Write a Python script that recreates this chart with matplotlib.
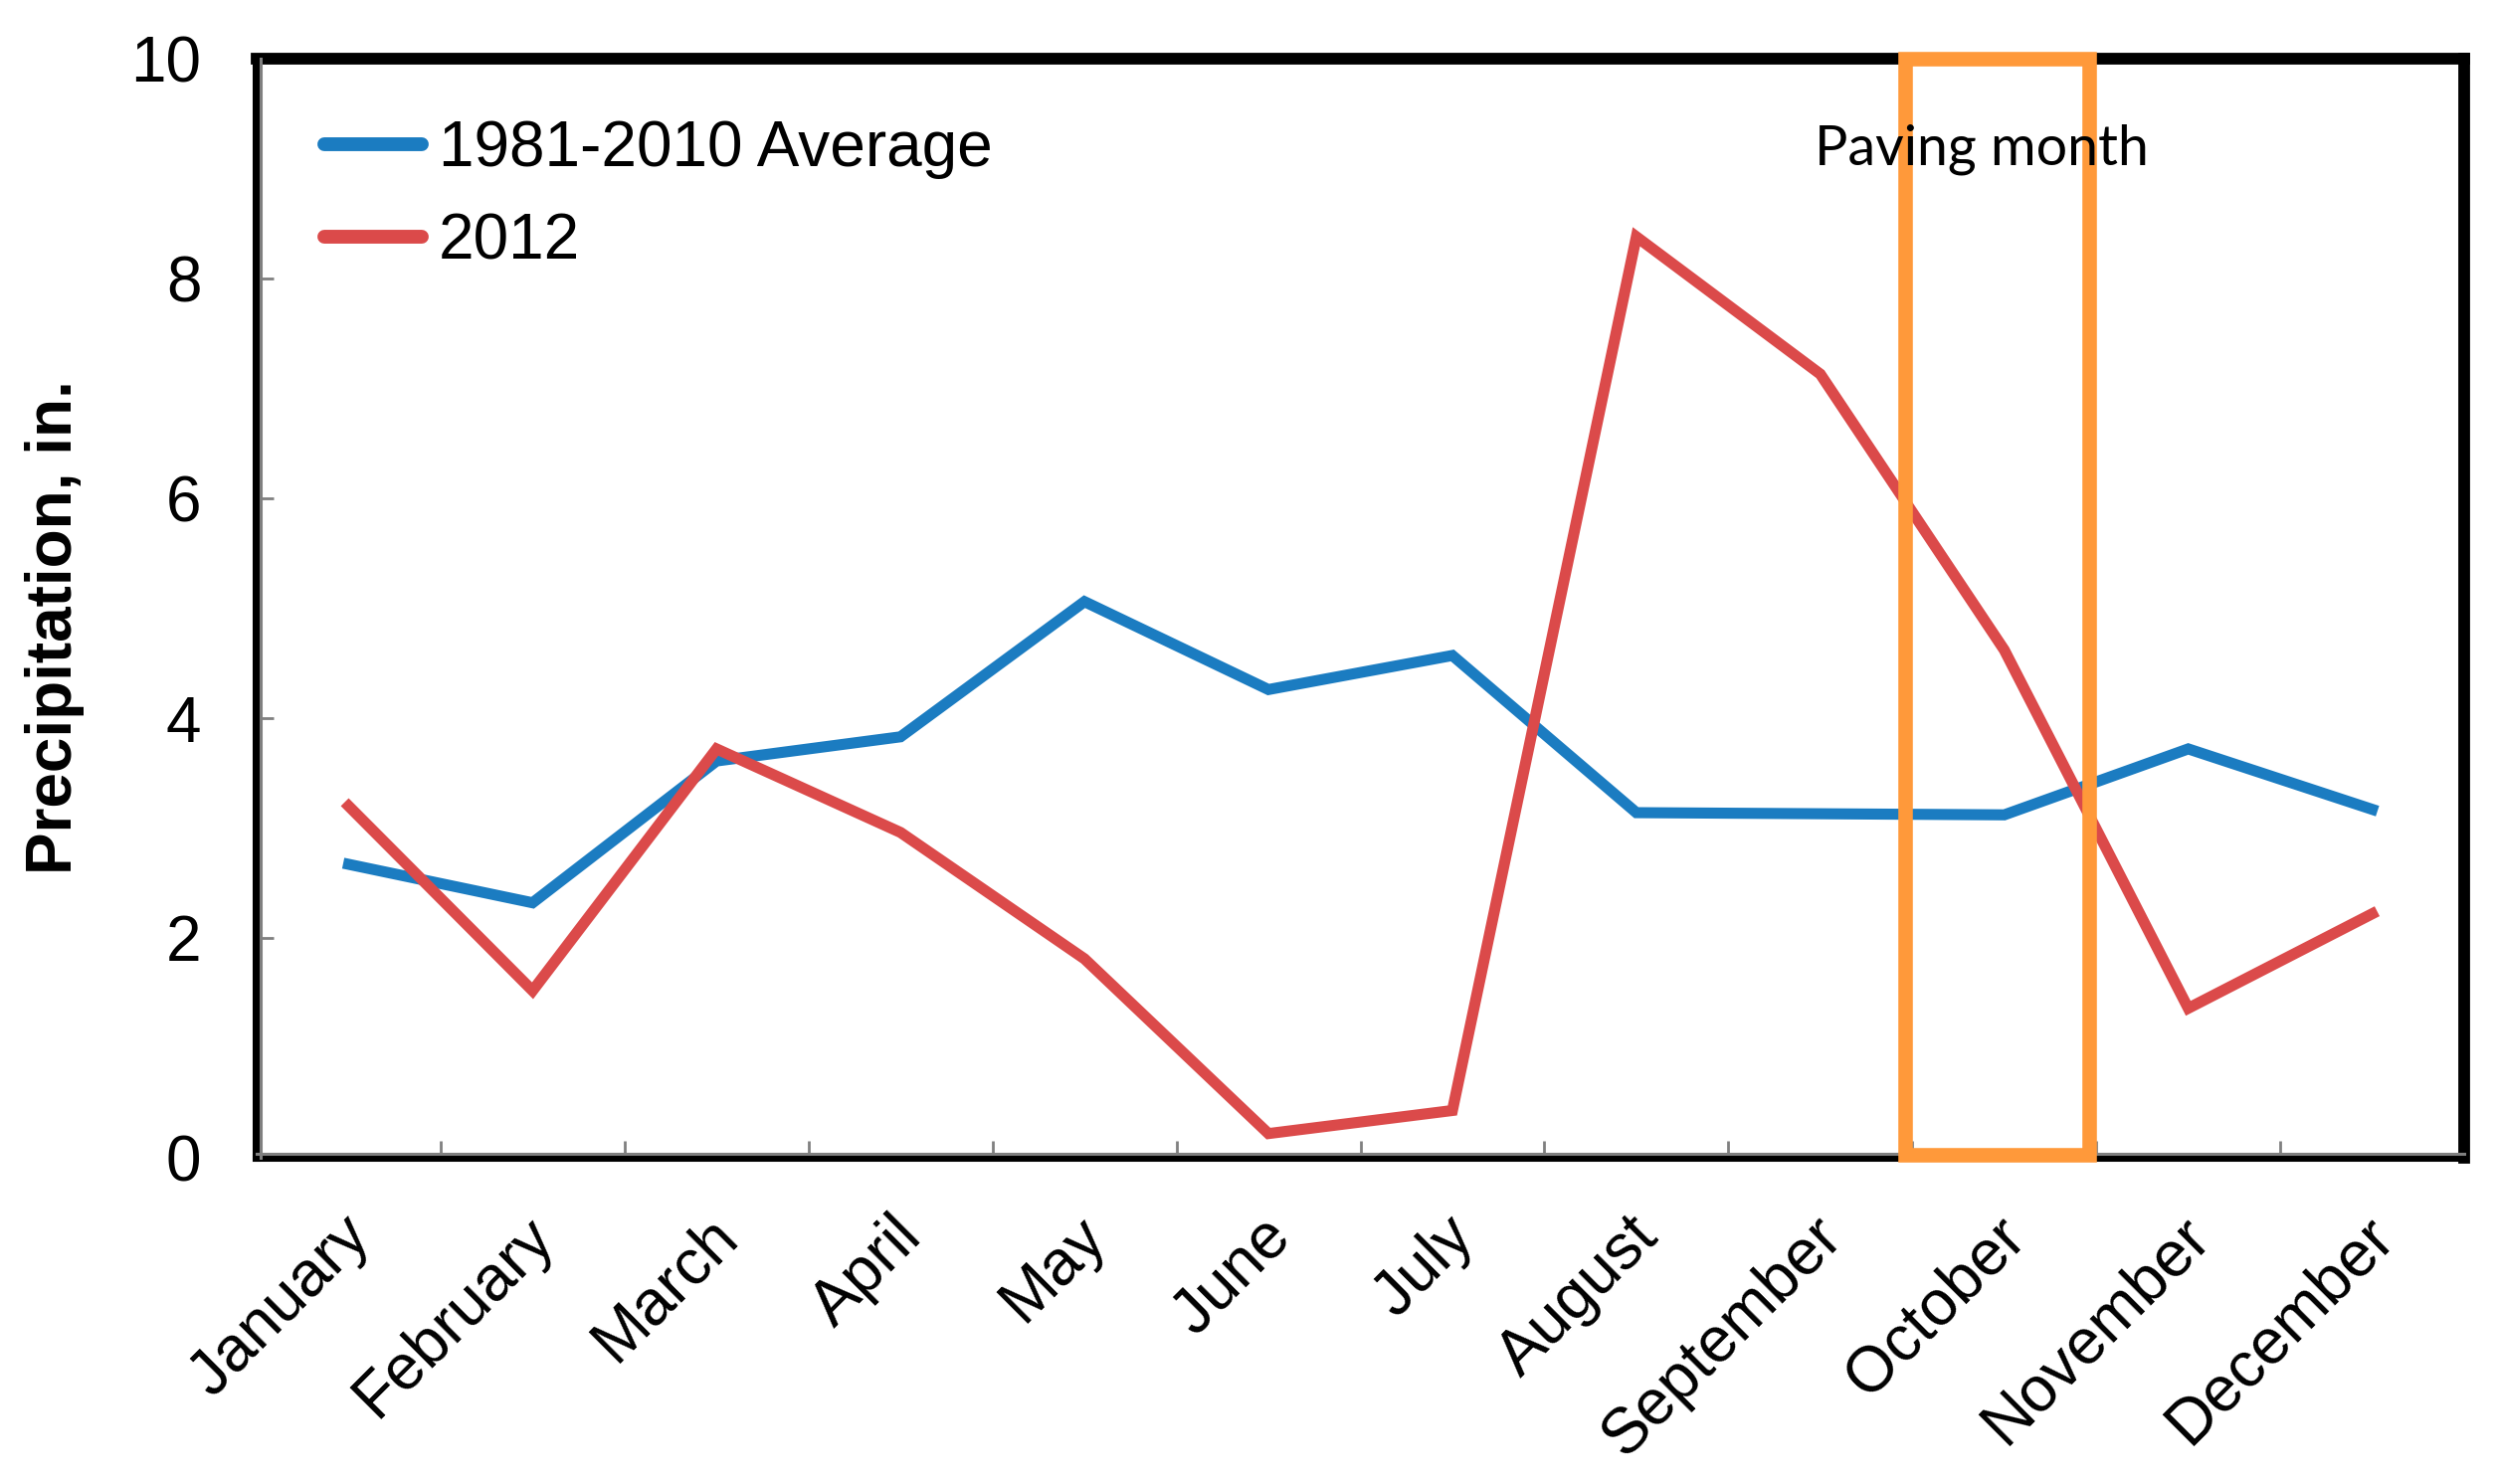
import matplotlib
matplotlib.use("Agg")
import matplotlib.pyplot as plt
import matplotlib.transforms as mtransforms
from matplotlib.patches import Rectangle
from matplotlib.lines import Line2D

months = ["January", "February", "March", "April", "May", "June", "July",
          "August", "September", "October", "November", "December"]
avg_1981_2010 = [2.67, 2.32, 3.61, 3.83, 5.06, 4.26, 4.57, 3.14, 3.13, 3.12, 3.72, 3.17]
year_2012 = [3.20, 1.52, 3.72, 2.96, 1.81, 0.22, 0.43, 8.38, 7.13, 4.62, 1.36, 2.22]
series_labels = ["1981-2010 Average", "2012"]
yticks = [0, 2, 4, 6, 8, 10]
paving_month = "October"

BLUE = "#1B7CC1"
RED = "#DB4A4A"
ORANGE = "#FF993A"
GRAY = "#808080"

plt.rcParams['font.family'] = ['Liberation Sans', 'DejaVu Sans']

DPI = 100
fig = plt.figure(figsize=(25.12, 14.92), dpi=DPI)
ax = fig.add_axes([258 / 2512, 1 - 1164 / 1492, (2477 - 258) / 2512, (1164 - 59) / 1492])

x = list(range(len(months)))
l1, = ax.plot(x, avg_1981_2010, color=BLUE, lw=8, solid_joinstyle='miter', zorder=3)
l2, = ax.plot(x, year_2012, color=RED, lw=8, solid_joinstyle='miter', zorder=3)

ax.set_xlim(-0.5, len(months) - 0.5)
ax.set_ylim(0, 10)

# spines
for side in ['left', 'bottom']:
    ax.spines[side].set_linewidth(5.8)
for side in ['top', 'right']:
    ax.spines[side].set_linewidth(8.5)
for s in ax.spines.values():
    s.set_color('black')
    s.set_zorder(4)

# gray inner axis lines
off_l = mtransforms.offset_copy(ax.transAxes, fig=fig, x=4, y=0, units='dots')
off_b = mtransforms.offset_copy(ax.transAxes, fig=fig, x=0, y=4, units='dots')
ax.add_line(Line2D([0, 0], [0, 1], transform=off_l, color=GRAY, lw=2.2, clip_on=False, zorder=4.5))
ax.add_line(Line2D([0, 1], [0, 0], transform=off_b, color=GRAY, lw=2.2, clip_on=False, zorder=4.5))

# ticks
ax.set_yticks(yticks)
ax.set_yticklabels([str(v) for v in yticks])
ax.tick_params(axis='y', direction='in', length=12, width=2, color=GRAY,
               labelsize=46, pad=40)
ax.set_xticks(x)
ax.set_xticklabels(months)
ax.set_xticks([i + 0.5 for i in x[:-1]], minor=True)
ax.tick_params(axis='x', which='major', length=0, labelsize=46, pad=50)
ax.tick_params(axis='x', which='minor', direction='in', length=12, width=2, color=GRAY)
shift = mtransforms.ScaledTranslation(12 / DPI, 0, fig.dpi_scale_trans)
for lab in ax.get_xticklabels():
    lab.set_rotation(45)
    lab.set_ha('right')
    lab.set_va('center')
    lab.set_rotation_mode('anchor')
    lab.set_transform(lab.get_transform() + shift)

# y label
ax.set_ylabel("Precipitation, in.", fontsize=46, fontweight='bold', va='center')
ax.yaxis.set_label_coords((55 - 258) / (2477 - 258), (1164 - 631) / (1164 - 59))

# paving month box
pi = months.index(paving_month)
rect = Rectangle((pi - 0.54, 0.03), 1.0, 10 - 0.03, fill=False, edgecolor=ORANGE,
                 lw=10.5, clip_on=False, zorder=5, joinstyle='miter')
ax.add_patch(rect)
ax.text(pi - 1.03, 9.04, "Paving month", family=['Lato', 'DejaVu Sans'], fontsize=40,
        ha='left', va='baseline', zorder=6)

# legend
leg = ax.legend([l1, l2], series_labels, loc='upper left',
                bbox_to_anchor=(326 / 2512, 1 - 120 / 1492), bbox_transform=fig.transFigure,
                frameon=False, fontsize=46, handlelength=1.53, handletextpad=0.27,
                labelspacing=0.52, borderpad=0, borderaxespad=0)
for h in leg.get_lines():
    h.set_linewidth(10)
    h.set_solid_capstyle('round')

fig.savefig("out.png", dpi=DPI, facecolor='white')
